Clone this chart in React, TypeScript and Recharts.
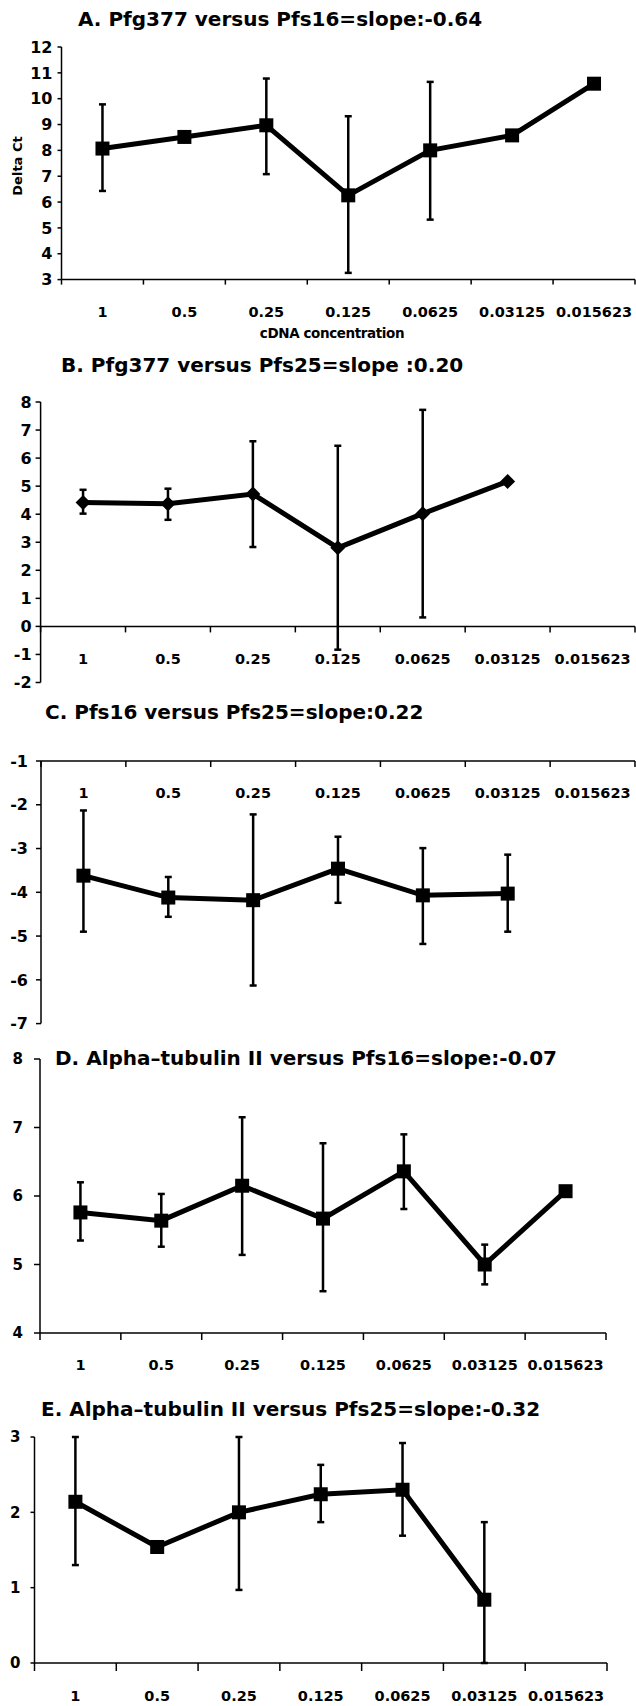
import { LineChart, Line, XAxis, YAxis, ErrorBar, ReferenceLine } from "recharts"

const FONT = "'DejaVu Sans', sans-serif"
const W = 636
const H = 1706
const TITLE_SIZE = 20

const categories = ["1", "0.5", "0.25", "0.125", "0.0625", "0.03125", "0.015623"]

// A. Pfg377 versus Pfs16
const valuesA = [8.07, 8.52, 8.97, 6.26, 8.0, 8.58, 10.58]
const lowA = [1.64, null, 1.89, 3.0, 2.68, null, null]
const highA = [1.71, null, 1.81, 3.06, 2.65, null, null]
const ticksA = [3, 4, 5, 6, 7, 8, 9, 10, 11, 12]

// B. Pfg377 versus Pfs25
const valuesB = [4.42, 4.37, 4.72, 2.8, 4.02, 5.17, null]
const lowB = [0.4, 0.57, 1.89, 3.63, 3.7, null, null]
const highB = [0.45, 0.54, 1.88, 3.64, 3.7, null, null]
const ticksB = [-2, -1, 0, 1, 2, 3, 4, 5, 6, 7, 8]

// C. Pfs16 versus Pfs25
const valuesC = [-3.62, -4.12, -4.18, -3.46, -4.07, -4.03, null]
const lowC = [1.28, 0.44, 1.95, 0.78, 1.11, 0.87, null]
const highC = [1.49, 0.47, 1.96, 0.73, 1.08, 0.89, null]
const ticksC = [-7, -6, -5, -4, -3, -2, -1]

// D. Alpha-tubulin II versus Pfs16
const valuesD = [5.76, 5.64, 6.15, 5.67, 6.36, 5.0, 6.07]
const lowD = [0.41, 0.38, 1.01, 1.06, 0.55, 0.29, null]
const highD = [0.44, 0.39, 1.0, 1.1, 0.54, 0.29, null]
const ticksD = [4, 5, 6, 7, 8]

// E. Alpha-tubulin II versus Pfs25
const valuesE = [2.14, 1.54, 2.0, 2.24, 2.3, 0.84, null]
const lowE = [0.84, null, 1.03, 0.37, 0.61, 0.84, null]
const highE = [0.86, null, 1.0, 0.39, 0.62, 1.03, null]
const ticksE = [0, 1, 2, 3]

const panels = [
  {
    title: "A. Pfg377 versus Pfs16=slope:-0.64",
    titleLeft: 78, titleMid: 19,
    values: valuesA, low: lowA, high: highA, yTicks: ticksA,
    marker: "square",
    box: { left: 61.5, right: 635, top: 46.7, bottom: 279.3 },
    yTickSize: 4, yTickGap: 5, yFont: 16,
    xAxisAt: "bottom", xTickLen: 5, xLabelDy: 32,
  },
  {
    title: "B. Pfg377 versus Pfs25=slope :0.20",
    titleLeft: 61, titleMid: 365,
    values: valuesB, low: lowB, high: highB, yTicks: ticksB,
    marker: "diamond",
    box: { left: 40.6, right: 635, top: 402.3, bottom: 682.8 },
    yTickSize: 5, yTickGap: 4, yFont: 16,
    xAxisAt: "zero", xTickLen: 6, xLabelDy: 33,
  },
  {
    title: "C. Pfs16 versus Pfs25=slope:0.22",
    titleLeft: 45, titleMid: 712,
    values: valuesC, low: lowC, high: highC, yTicks: ticksC,
    marker: "square",
    box: { left: 41, right: 635, top: 760.7, bottom: 1023.3 },
    yTickSize: 5, yTickGap: 8, yFont: 16,
    xAxisAt: "top", xTickLen: 6, xLabelDy: 32,
  },
  {
    title: "D. Alpha\u2013tubulin II versus Pfs16=slope:-0.07",
    titleLeft: 55, titleMid: 1058,
    values: valuesD, low: lowD, high: highD, yTicks: ticksD,
    marker: "square",
    box: { left: 40, right: 606, top: 1059.3, bottom: 1333.3 },
    yTickSize: 6, yTickGap: 11, yFont: 15,
    xAxisAt: "bottom", xTickLen: 7, xLabelDy: 32,
  },
  {
    title: "E. Alpha\u2013tubulin II versus Pfs25=slope:-0.32",
    titleLeft: 41, titleMid: 1409,
    values: valuesE, low: lowE, high: highE, yTicks: ticksE,
    marker: "square",
    box: { left: 34.5, right: 607, top: 1437.3, bottom: 1663.3 },
    yTickSize: 4, yTickGap: 10, yFont: 15,
    xAxisAt: "bottom", xTickLen: 8, xLabelDy: 33,
  },
]

const PAD_T = 40
const PAD_B = 60
const XH = 30

function squareDot(size: number) {
  return (props: any) => {
    const { cx, cy, index } = props
    if (cx == null || cy == null) return <g key={index} />
    return <rect key={index} x={cx - size / 2} y={cy - size / 2} width={size} height={size} fill="#000" />
  }
}

function diamondDot(size: number) {
  return (props: any) => {
    const { cx, cy, index } = props
    if (cx == null || cy == null) return <g key={index} />
    const r = size / 2
    return (
      <polygon
        key={index}
        points={`${cx},${cy - r} ${cx + r},${cy} ${cx},${cy + r} ${cx - r},${cy}`}
        fill="#000"
      />
    )
  }
}

function makeXTick(band: number, shift: number, len: number, dy: number, last: number) {
  return (props: any) => {
    const { x, y, payload, index } = props
    const ay = y - shift
    return (
      <g>
        <line x1={x - band / 2} x2={x - band / 2} y1={ay} y2={ay + len} stroke="#000" strokeWidth={1.5} />
        {index === last && (
          <line x1={x + band / 2} x2={x + band / 2} y1={ay} y2={ay + len} stroke="#000" strokeWidth={1.5} />
        )}
        <text
          x={x}
          y={ay + dy}
          textAnchor="middle"
          dominantBaseline="central"
          fontFamily={FONT}
          fontWeight="bold"
          fontSize={14.5}
          fill="#000"
        >
          {payload.value}
        </text>
      </g>
    )
  }
}

function Panel({ p }: { p: any }) {
  const n = categories.length
  const band = (p.box.right - p.box.left) / n
  const yMin = p.yTicks[0]
  const yMax = p.yTicks[p.yTicks.length - 1]
  const data = categories.map((c, i) => ({
    cat: c,
    v: p.values[i],
    err: p.low[i] == null ? null : [p.low[i], p.high[i]],
  }))
  const top = p.box.top - PAD_T
  const height = p.box.bottom + PAD_B - top
  const onTop = p.xAxisAt === "top"
  const margin = onTop
    ? { top: PAD_T - XH, right: W - p.box.right, bottom: PAD_B, left: 0 }
    : { top: PAD_T, right: W - p.box.right, bottom: PAD_B - XH, left: 0 }
  const shift = p.xAxisAt === "zero" ? ((p.box.bottom - p.box.top) * (0 - yMin)) / (yMax - yMin) : 0
  const dot = p.marker === "diamond" ? diamondDot(15) : squareDot(14)

  return (
    <div style={{ position: "absolute", left: 0, top, width: W, height }}>
      <LineChart width={W} height={height} data={data} margin={margin}>
        <XAxis
          dataKey="cat"
          type="category"
          orientation={onTop ? "top" : "bottom"}
          height={XH}
          padding={{ left: band / 2, right: band / 2 }}
          interval={0}
          tickLine={false}
          tickSize={0}
          tickMargin={0}
          axisLine={p.xAxisAt === "zero" ? false : { stroke: "#000", strokeWidth: 1.5 }}
          tick={makeXTick(band, shift, p.xTickLen, p.xLabelDy, n - 1)}
        />
        <YAxis
          type="number"
          domain={[yMin, yMax]}
          ticks={p.yTicks}
          interval={0}
          width={p.box.left}
          tickSize={p.yTickSize}
          tickMargin={p.yTickGap}
          axisLine={{ stroke: "#000", strokeWidth: 1.5 }}
          tickLine={{ stroke: "#000", strokeWidth: 1.5 }}
          tick={{ fill: "#000", fontSize: p.yFont, fontWeight: "bold", fontFamily: FONT }}
        />
        {p.xAxisAt === "zero" && <ReferenceLine y={0} stroke="#000" strokeWidth={1.5} />}
        <Line
          type="linear"
          dataKey="v"
          stroke="#000"
          strokeWidth={5}
          dot={dot}
          activeDot={false}
          isAnimationActive={false}
        >
          <ErrorBar dataKey="err" direction="y" width={3.5} stroke="#000" strokeWidth={2.5} />
        </Line>
      </LineChart>
    </div>
  )
}

export default function App() {
  return (
    <div
      style={{
        position: "absolute",
        left: 0,
        top: 0,
        width: W,
        height: H,
        background: "#fff",
        overflow: "hidden",
        fontFamily: FONT,
      }}
    >
      {panels.map((p) => (
        <Panel key={p.title} p={p} />
      ))}
      {panels.map((p) => (
        <div
          key={"t" + p.title}
          style={{
            position: "absolute",
            left: p.titleLeft,
            top: p.titleMid - 0.48 * TITLE_SIZE,
            fontSize: TITLE_SIZE,
            lineHeight: `${TITLE_SIZE}px`,
            fontWeight: "bold",
            whiteSpace: "nowrap",
            color: "#000",
          }}
        >
          {p.title}
        </div>
      ))}
      <div
        style={{
          position: "absolute",
          left: 17,
          top: 166,
          transform: "translate(-50%, -50%) rotate(-90deg)",
          fontSize: 13,
          fontWeight: "bold",
          whiteSpace: "nowrap",
        }}
      >
        Delta Ct
      </div>
      <div
        style={{
          position: "absolute",
          left: 332,
          top: 333,
          transform: "translate(-50%, -50%)",
          fontSize: 13.5,
          fontWeight: "bold",
          whiteSpace: "nowrap",
          letterSpacing: -0.4,
        }}
      >
        cDNA concentration
      </div>
    </div>
  )
}
